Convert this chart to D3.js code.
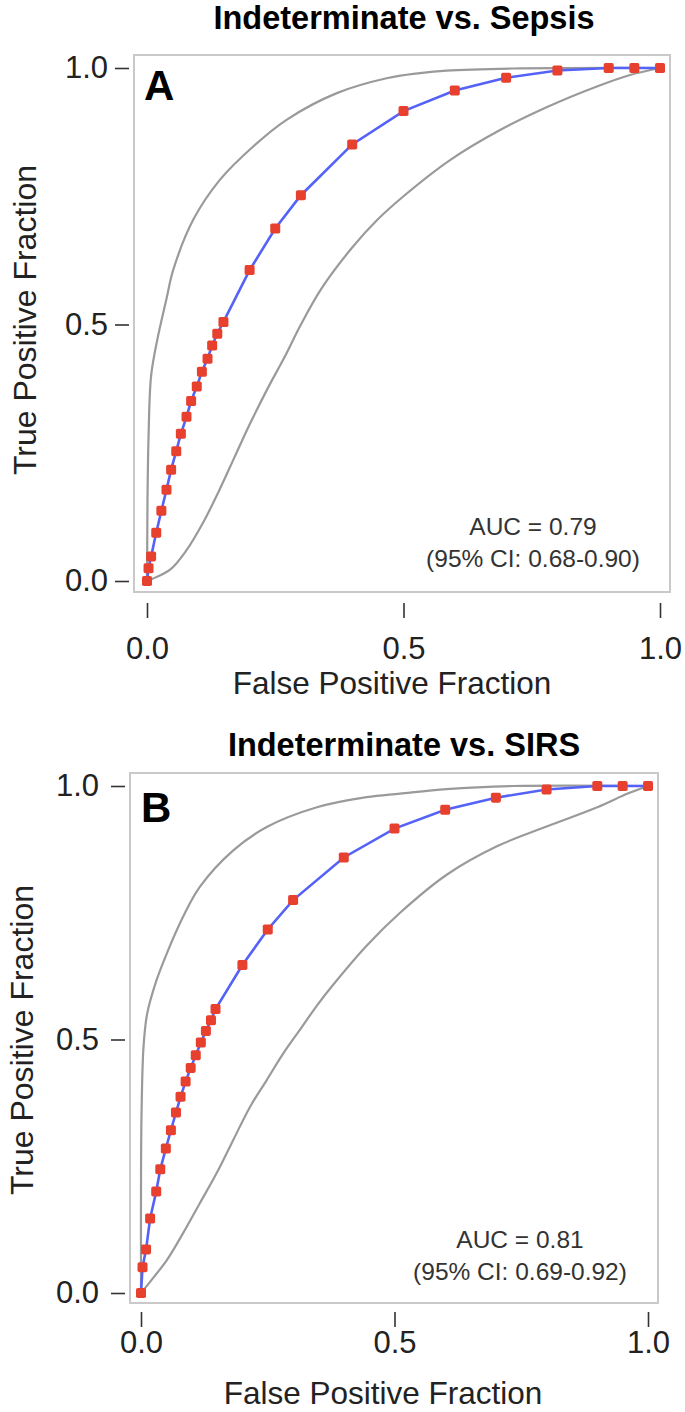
<!DOCTYPE html>
<html>
<head>
<meta charset="utf-8">
<script src="https://cdn.jsdelivr.net/npm/d3@7"></script>
<style>
  body { margin: 0; background: #fff; }
  svg { display: block; font-family: "Liberation Sans", Arial, Helvetica, sans-serif; }
</style>
</head>
<body>
<div id="chart"></div>
<script>
// ROC points, panel A (Indeterminate vs. Sepsis)
var fprA = [0,0.003,0.008,0.018,0.028,0.038,0.047,0.057,0.066,0.077,0.086,0.097,0.107,0.118,0.127,0.137,0.149,0.2,0.25,0.3,0.4,0.5,0.6,0.7,0.8,0.9,0.95,1]
var tprA = [0,0.025,0.048,0.094,0.137,0.178,0.217,0.253,0.287,0.32,0.351,0.379,0.408,0.433,0.459,0.482,0.505,0.606,0.687,0.752,0.851,0.916,0.956,0.981,0.995,1,1,1]
// 95% CI band, panel A  [fpr, tpr]
var upperA = [[0,0],[0.0005,0.08],[0.001,0.16],[0.003,0.28],[0.008,0.4],[0.02,0.47],[0.038,0.55],[0.051,0.606],[0.09,0.704],[0.142,0.782],[0.207,0.847],[0.272,0.899],[0.37,0.951],[0.467,0.98],[0.532,0.99],[0.584,0.995],[0.713,0.999],[1,1]]
var lowerA = [[0,0],[0.012,0.005],[0.045,0.022],[0.077,0.06],[0.11,0.115],[0.14,0.175],[0.17,0.24],[0.2,0.305],[0.235,0.375],[0.27,0.44],[0.3,0.5],[0.34,0.57],[0.4,0.65],[0.45,0.705],[0.5,0.75],[0.59,0.82],[0.69,0.88],[0.78,0.924],[0.877,0.964],[0.94,0.986],[1,1]]

// ROC points, panel B (Indeterminate vs. SIRS)
var fprB = [0,0.003,0.01,0.018,0.03,0.038,0.049,0.059,0.069,0.078,0.088,0.098,0.108,0.118,0.128,0.138,0.147,0.2,0.25,0.3,0.4,0.5,0.6,0.7,0.8,0.9,0.95,1]
var tprB = [0,0.051,0.086,0.147,0.2,0.244,0.285,0.321,0.356,0.387,0.417,0.444,0.469,0.494,0.517,0.538,0.56,0.647,0.717,0.775,0.859,0.916,0.953,0.977,0.993,1,1,1]
var upperB = [[0,0],[0,0.2],[0.001,0.35],[0.005,0.486],[0.012,0.55],[0.03,0.615],[0.051,0.67],[0.083,0.742],[0.116,0.801],[0.182,0.873],[0.248,0.919],[0.347,0.958],[0.445,0.978],[0.511,0.985],[0.603,0.994],[0.734,1],[1,1]]
var lowerB = [[0,0],[0.021,0.026],[0.051,0.065],[0.083,0.118],[0.116,0.177],[0.149,0.236],[0.182,0.302],[0.215,0.367],[0.248,0.42],[0.281,0.473],[0.314,0.52],[0.347,0.567],[0.379,0.608],[0.445,0.685],[0.511,0.75],[0.603,0.825],[0.702,0.881],[0.8,0.92],[0.9,0.958],[0.96,0.985],[1,1]]

var ticks = [0, 0.5, 1]
var tickLabels = ["0.0", "0.5", "1.0"]
var titles = ["Indeterminate vs. Sepsis", "Indeterminate vs. SIRS"]
var letters = ["A", "B"]
var aucLines = [["AUC = 0.79", "(95% CI: 0.68-0.90)"], ["AUC = 0.81", "(95% CI: 0.69-0.92)"]]

var W = 685, H = 1412

var svg = d3.select("#chart").append("svg")
  .attr("width", W)
  .attr("height", H)

// layout of each panel (pixels)
var panels = [
  { fpr: fprA, tpr: tprA, upper: upperA, lower: lowerA, title: titles[0], letter: letters[0], auc: aucLines[0],
    frame: [134, 55, 670, 592], xr: [147, 660], yr: [581, 68],
    yAxisX: 129, yPad: 7, xAxisY: 603, xPad: 19,
    titleY: 29, letterPos: [144, 100], aucPos: [533, 535], xLabelPos: [392, 694], yLabelPos: [36, 320] },
  { fpr: fprB, tpr: tprB, upper: upperB, lower: lowerB, title: titles[1], letter: letters[1], auc: aucLines[1],
    frame: [130, 773, 658, 1303], xr: [141, 648], yr: [1293, 786],
    yAxisX: 125, yPad: 12, xAxisY: 1312, xPad: 4,
    titleY: 756, letterPos: [141, 822], aucPos: [520, 1248], xLabelPos: [383, 1404], yLabelPos: [33, 1040] }
]

panels.forEach(function(p) {
  var x = d3.scaleLinear().domain([0, 1]).range(p.xr)
  var y = d3.scaleLinear().domain([0, 1]).range(p.yr)
  var g = svg.append("g")

  // title
  g.append("text")
    .attr("x", 404).attr("y", p.titleY)
    .attr("text-anchor", "middle")
    .style("font-size", "32.5px").style("font-weight", "bold")
    .text(p.title)

  // frame
  g.append("rect")
    .attr("x", p.frame[0]).attr("y", p.frame[1])
    .attr("width", p.frame[2] - p.frame[0]).attr("height", p.frame[3] - p.frame[1])
    .attr("fill", "none").attr("stroke", "#c9c9c9").attr("stroke-width", 2)

  // axes
  var yAxis = g.append("g")
    .attr("transform", "translate(" + p.yAxisX + ",0)")
    .call(d3.axisLeft(y).tickValues(ticks).tickSize(14).tickPadding(p.yPad)
      .tickFormat(function(d, i) { return tickLabels[i] }))
  var xAxis = g.append("g")
    .attr("transform", "translate(0," + p.xAxisY + ")")
    .call(d3.axisBottom(x).tickValues(ticks).tickSize(15).tickPadding(p.xPad)
      .tickFormat(function(d, i) { return tickLabels[i] }))
  ;[yAxis, xAxis].forEach(function(a) {
    a.select(".domain").remove()
    a.selectAll(".tick line").attr("stroke", "#333").attr("stroke-width", 1.6)
    a.selectAll(".tick text").attr("fill", "#222").style("font-size", "31px")
      .style("font-family", "'Liberation Sans', Arial, sans-serif")
  })

  // axis titles
  g.append("text")
    .attr("x", p.xLabelPos[0]).attr("y", p.xLabelPos[1])
    .attr("text-anchor", "middle").attr("fill", "#222")
    .style("font-size", "31.5px")
    .text("False Positive Fraction")
  g.append("text")
    .attr("transform", "translate(" + p.yLabelPos[0] + "," + p.yLabelPos[1] + ") rotate(-90)")
    .attr("text-anchor", "middle").attr("fill", "#222")
    .style("font-size", "32px")
    .text("True Positive Fraction")

  // CI band curves
  var band = d3.line()
    .x(function(d) { return x(d[0]) })
    .y(function(d) { return y(d[1]) })
    .curve(d3.curveCatmullRom.alpha(0.5))
  ;[p.upper, p.lower].forEach(function(c) {
    g.append("path")
      .datum(c)
      .attr("d", band)
      .attr("fill", "none").attr("stroke", "#9a9a9a").attr("stroke-width", 2.2)
  })

  // ROC line + points
  var pts = p.fpr.map(function(f, i) { return [f, p.tpr[i]] })
  g.append("path")
    .datum(pts)
    .attr("d", d3.line().x(function(d) { return x(d[0]) }).y(function(d) { return y(d[1]) }))
    .attr("fill", "none").attr("stroke", "#5462f7").attr("stroke-width", 2.6)

  var s = 10
  g.selectAll(".pt")
    .data(pts)
    .enter()
    .append("rect")
    .attr("x", function(d) { return x(d[0]) - s / 2 })
    .attr("y", function(d) { return y(d[1]) - s / 2 })
    .attr("width", s).attr("height", s)
    .attr("rx", 1.8)
    .attr("fill", "#e8402f")

  // panel letter
  g.append("text")
    .attr("x", p.letterPos[0]).attr("y", p.letterPos[1])
    .style("font-size", "42px").style("font-weight", "bold")
    .text(p.letter)

  // AUC annotation
  g.append("text")
    .attr("x", p.aucPos[0]).attr("y", p.aucPos[1])
    .attr("text-anchor", "middle").attr("fill", "#333")
    .style("font-size", "24.5px")
    .text(p.auc[0])
  g.append("text")
    .attr("x", p.aucPos[0]).attr("y", p.aucPos[1] + 32)
    .attr("text-anchor", "middle").attr("fill", "#333")
    .style("font-size", "24.5px")
    .text(p.auc[1])
})
</script>
</body>
</html>
